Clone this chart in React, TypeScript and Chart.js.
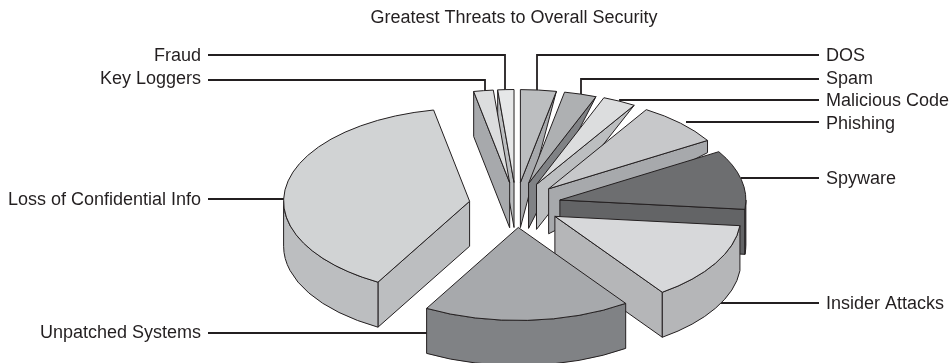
import React, { useEffect, useRef } from "react";
import { Chart, registerables } from "chart.js";

Chart.register(...registerables);

const chartTitle = "Greatest Threats to Overall Security";
const categories = [
  "DOS", "Spam", "Malicious Code", "Phishing", "Spyware",
  "Insider Attacks", "Unpatched Systems", "Loss of Confidential Info", "Key Loggers", "Fraud",
];
const shares = [3.1, 2.8, 2.9, 7.5, 10.3, 13.6, 18.0, 38.7, 1.7, 1.4];
const topColors = ["#bcbec0", "#aeb0b2", "#dcddde", "#c7c8ca", "#6d6e70", "#d7d8da", "#a7a9ac", "#d1d3d4", "#dcddde", "#e6e7e8"];
const sideColors = ["#a7a9ac", "#808285", "#bcbec0", "#a7a9ac", "#636466", "#b5b6b8", "#808285", "#bcbec0", "#a7a9ac", "#bcbec0"];
const explode = [45, 45, 46, 46, 45, 45, 45, 47, 45, 45];

// Presentation constants for the tilted, exploded pie
const TILT = 0.5;
const DEPTH = 45;
const RADIUS = 186;
const INK = "#231f20";
const FONT = "18px 'Liberation Sans', Arial, sans-serif";

// Annotation layout: label position and leader line, per category
const labelLayout: Record<string, { side: "left" | "right"; y: number; textY: number; to: number; end?: number }> = {
  "DOS": { side: "right", y: 55, textY: 56, to: 537, end: 90 },
  "Spam": { side: "right", y: 79, textY: 79, to: 581, end: 94 },
  "Malicious Code": { side: "right", y: 100, textY: 101, to: 620, end: 102 },
  "Phishing": { side: "right", y: 122, textY: 124, to: 686 },
  "Spyware": { side: "right", y: 178, textY: 179, to: 741 },
  "Insider Attacks": { side: "right", y: 303, textY: 304, to: 718 },
  "Unpatched Systems": { side: "left", y: 333, textY: 333, to: 428 },
  "Loss of Confidential Info": { side: "left", y: 199, textY: 200, to: 286 },
  "Key Loggers": { side: "left", y: 80, textY: 79, to: 485, end: 91 },
  "Fraud": { side: "left", y: 55, textY: 56, to: 505, end: 91 },
};
const LEFT_TEXT = 201;
const LEFT_LINE = 208;
const RIGHT_TEXT = 826;
const RIGHT_LINE = 819;

function cornerFraction(angle: number) {
  const deg = (angle * 180) / Math.PI;
  return Math.max(0, Math.min(1, (deg + 43) / 43));
}

const pie3d = {
  id: "pie3d",
  beforeDatasetsDraw(chart: any) {
    const ctx: CanvasRenderingContext2D = chart.ctx;

    // title and labels with their leader lines
    ctx.save();
    ctx.font = FONT;
    ctx.fillStyle = INK;
    ctx.textBaseline = "middle";
    ctx.textAlign = "center";
    ctx.fillText(chartTitle, 514, 18);
    categories.forEach((name) => {
      const l = labelLayout[name];
      const left = l.side === "left";
      ctx.textAlign = left ? "right" : "left";
      ctx.fillText(name, left ? LEFT_TEXT : RIGHT_TEXT, l.textY);
      ctx.beginPath();
      ctx.moveTo(left ? LEFT_LINE : RIGHT_LINE, l.y);
      ctx.lineTo(l.to, l.y);
      if (l.end !== undefined) ctx.lineTo(l.to, l.end);
      ctx.strokeStyle = INK;
      ctx.lineWidth = 1.8;
      ctx.stroke();
    });
    ctx.restore();

    const arcs: any[] = chart.getDatasetMeta(0).data;
    const items = arcs.map((arc, i) => {
      const mid = (arc.startAngle + arc.endAngle) / 2;
      const tx = arc.x + explode[i] * Math.cos(mid);
      const ty = arc.y + TILT * explode[i] * Math.sin(mid);
      return { arc, i, tx, ty, order: ty + 0.5 * TILT * arc.outerRadius * Math.sin(mid) };
    });
    items.sort((p, q) => p.order - q.order);

    items.forEach(({ arc, i, tx, ty }) => {
      const R = arc.outerRadius;
      const a1 = arc.startAngle;
      const a2 = arc.endAngle;
      const px = (a: number) => tx + R * Math.cos(a);
      const py = (a: number) => ty + TILT * R * Math.sin(a);

      ctx.save();
      ctx.lineJoin = "round";
      ctx.lineWidth = 1;
      ctx.strokeStyle = INK;
      ctx.fillStyle = sideColors[i];

      const face = (a: number, frac: number) => {
        ctx.beginPath();
        ctx.moveTo(tx, ty);
        ctx.lineTo(px(a), py(a));
        ctx.lineTo(px(a), py(a) + DEPTH * frac);
        ctx.lineTo(tx, ty + DEPTH);
        ctx.closePath();
        ctx.fill();
        ctx.stroke();
      };
      if (Math.cos(a1) < 0) face(a1, 1);
      if (Math.cos(a2) > 0) face(a2, cornerFraction(a2));

      const w1 = Math.max(a1, 0);
      const w2 = Math.min(a2, Math.PI);
      if (w2 > w1) {
        ctx.beginPath();
        ctx.ellipse(tx, ty, R, TILT * R, 0, w1, w2, false);
        ctx.ellipse(tx, ty + DEPTH, R, TILT * R, 0, w2, w1, true);
        ctx.closePath();
        ctx.fill();
        ctx.stroke();
      }

      // top surface, painted by the library's own arc element
      ctx.save();
      ctx.translate(tx, ty);
      ctx.scale(1, TILT);
      ctx.translate(-arc.x, -arc.y);
      arc.draw(ctx);
      ctx.restore();

      ctx.beginPath();
      ctx.moveTo(tx, ty);
      ctx.ellipse(tx, ty, R, TILT * R, 0, a1, a2, false);
      ctx.closePath();
      ctx.stroke();
      ctx.restore();
    });
    return false;
  },
};

export default function App() {
  const ref = useRef<HTMLCanvasElement | null>(null);
  useEffect(() => {
    if (!ref.current) return;
    const chart = new Chart(ref.current, {
      type: "pie",
      data: {
        labels: categories,
        datasets: [
          {
            data: shares,
            backgroundColor: topColors,
            borderWidth: 0,
            radius: RADIUS,
          } as any,
        ],
      },
      options: {
        responsive: false,
        animation: false,
        events: [],
        devicePixelRatio: 1,
        layout: { padding: { left: 80, top: 47, right: 0, bottom: 0 } },
        plugins: { legend: { display: false }, title: { display: false }, tooltip: { enabled: false } },
      },
      plugins: [pie3d],
    });
    return () => chart.destroy();
  }, []);
  return (
    <canvas
      ref={ref}
      width={952}
      height={363}
      style={{ position: "absolute", left: 0, top: 0, width: 952, height: 363, display: "block" }}
    />
  );
}
